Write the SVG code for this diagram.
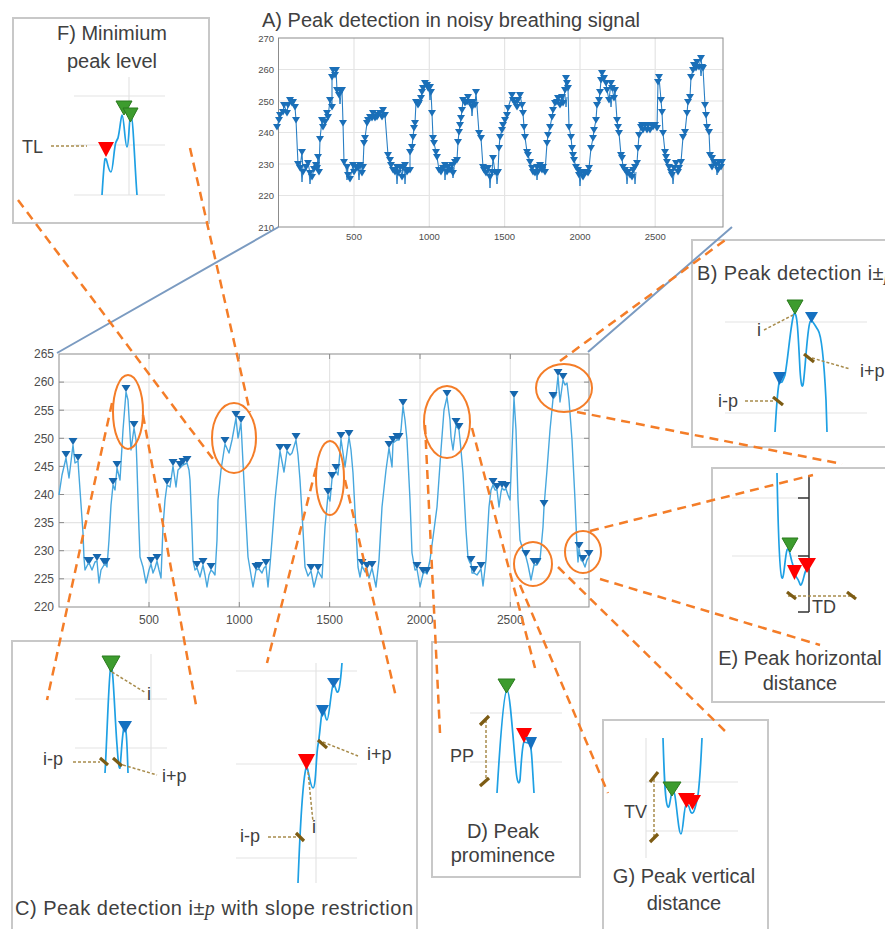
<svg xmlns="http://www.w3.org/2000/svg" width="885" height="929" viewBox="0 0 885 929">
  <defs>
    <style>
      .box{fill:#fff;stroke:#c8c8c8;stroke-width:2}
      .ttl{font-family:"Liberation Sans",Arial,sans-serif;font-size:20px;fill:#404040}
      .lbl{font-family:"Liberation Sans",Arial,sans-serif;font-size:18px;fill:#404040}
      .tk{font-family:"Liberation Sans",Arial,sans-serif;font-size:12px;fill:#4d4d4d}
      .tks{font-family:"Liberation Sans",Arial,sans-serif;font-size:9.5px;fill:#4d4d4d}
      .mid{text-anchor:middle}
      .end{text-anchor:end}
      .grid{stroke:#e4e4e4;stroke-width:1.2;fill:none}
      .ax{fill:none;stroke:#8c8c8c;stroke-width:1}
      .sig{fill:none;stroke:#1ea0e4;stroke-width:1.7;stroke-linejoin:round}
      .lead{fill:none;stroke:#a88c4c;stroke-width:1.5;stroke-dasharray:3 2}
      .cut{stroke:#7d5c14;stroke-width:3.2}
      .g{fill:#3d9c2e;stroke:#2b7a1e;stroke-width:1}
      .r{fill:#ff0000}
      .b{fill:#1570c0}
      .conn{fill:none;stroke:#f47d28;stroke-width:2.5;stroke-dasharray:9 6}
      .ring{fill:none;stroke:#f47d28;stroke-width:2}
      .zoomln{fill:none;stroke:#7b9bc1;stroke-width:2}
    </style>
    <!-- findpeaks style markers: tip sits on the vertex -->
    <marker id="mk" markerUnits="userSpaceOnUse" markerWidth="10" markerHeight="8" refX="4.5" refY="7" overflow="visible">
      <path d="M0 0H9L4.5 7Z" fill="#1667ae"/>
    </marker>
    <marker id="mt" markerUnits="userSpaceOnUse" markerWidth="9" markerHeight="7" refX="4" refY="3" overflow="visible">
      <path d="M0 0H8L4 6.5Z" fill="#1a6fb8"/>
    </marker>
  </defs>

  <rect width="885" height="929" fill="#fff"/>

  <!-- A) raw signal overview -->
  <g id="panel-a">
    <text class="ttl" x="262" y="27">A) Peak detection in noisy breathing signal</text>
    <path class="grid" d="M354 38V227M429.3 38V227M504.6 38V227M580 38V227M655.2 38V227M278.5 69.5H723M278.5 101H723M278.5 132.5H723M278.5 164H723M278.5 195.5H723"/>
    <rect class="ax" x="278.5" y="38" width="444.5" height="189"/>
    <g class="tks end">
      <text x="274" y="41.5">270</text><text x="274" y="73">260</text><text x="274" y="104.5">250</text>
      <text x="274" y="136">240</text><text x="274" y="167.5">230</text><text x="274" y="199">220</text><text x="274" y="230.5">210</text>
    </g>
    <g class="tks mid">
      <text x="354" y="240">500</text><text x="429.3" y="240">1000</text><text x="504.6" y="240">1500</text>
      <text x="580" y="240">2000</text><text x="655.2" y="240">2500</text>
    </g>
    <path fill="none" stroke="#2a7fc4" stroke-width="1" d="M301 168l1 14l1-12M309 172l1 12l1-10M346 166l1 14l1-12M358 168l1 12l1-12M396 170l1 14l1-12M404 168l1 16l1-14M444 166l1 14l1-12M452 166l1 12l1-10M489 172l1 16l1-14M496 172l1 12l1-10M536 168l1 12l1-10M579 172l1 14l1-12M626 172l1 12l1-10M634 170l1 14l1-12M672 172l1 12l1-10M716 165l1 10l1-8M339 92l1 12l1-10M429 88l1 12l1-10M471 104l1 12l1-10M565 95l1 12l1-10M610 95l1 12l1-10M700 66l1 10l1-8"/>
    <polyline fill="none" stroke="#2a7fc4" stroke-width="1.1" stroke-linejoin="round" marker-start="url(#mt)" marker-mid="url(#mt)" marker-end="url(#mt)" points="277,127 279,120 280,115 283,112 284,105 287,113 288,105 290,100 292,103 293,102 295,107 296,120 298,164 300,168 302,152 303,172 306,167 308,163 310,173 312,177 314,169 316,165 317,168 318,157 319,172 320,139 322,120 323,127 325,122 327,113 328,117 330,100 332,107 332,77 333,70 335,75 336,70 337,90 339,95 340,90 342,90 343,123 344,162 347,167 348,175 350,179 353,165 354,172 356,167 358,168 360,165 362,173 363,167 364,143 365,138 367,123 368,120 370,117 372,118 373,113 375,118 377,117 378,115 380,113 382,117 383,110 385,115 388,155 390,160 391,165 393,170 395,172 397,167 398,173 400,167 402,177 403,168 405,165 407,172 408,170 410,170 410,152 412,147 413,137 414,128 415,123 416,102 418,105 419,103 421,98 422,92 423,88 425,83 427,85 428,88 430,87 431,92 432,113 433,138 434,143 436,152 437,157 439,170 441,172 443,168 445,165 447,172 448,167 450,170 452,165 453,173 455,162 457,160 458,142 459,132 460,125 461,118 462,110 463,100 465,103 467,102 468,97 470,103 472,107 473,102 475,105 476,92 479,133 481,138 483,167 484,170 486,173 488,168 490,177 492,172 493,158 495,172 497,173 498,172 499,148 500,137 502,130 503,125 505,120 507,115 508,108 512,95 513,100 515,103 517,107 518,100 520,95 522,105 523,113 524,127 525,137 527,152 528,155 530,162 532,168 533,172 535,173 537,167 538,172 540,165 542,170 543,167 545,172 547,143 548,135 550,127 552,117 553,110 555,103 557,102 558,98 560,105 562,97 563,103 565,90 566,78 567,83 568,88 569,127 571,137 572,148 573,155 574,160 576,167 578,170 579,175 581,172 583,177 584,173 586,172 588,173 589,168 591,148 593,138 594,130 596,120 597,105 599,100 600,92 601,80 602,73 604,78 606,83 607,90 609,100 611,83 612,88 614,98 615,90 617,120 618,127 619,133 621,155 622,158 623,167 625,170 627,173 628,172 630,175 632,177 633,170 635,167 637,163 638,148 639,135 641,127 642,125 643,130 645,125 647,130 648,125 650,130 652,125 653,127 655,125 657,128 658,82 659,77 661,100 662,112 663,133 665,152 666,157 667,162 669,167 671,172 672,175 674,168 676,163 678,172 679,168 681,162 683,137 685,132 687,113 688,102 690,97 691,77 693,70 694,65 696,68 697,62 699,67 701,58 702,67 703,68 705,105 706,115 707,127 709,132 710,155 712,158 712,167 714,162 716,165 718,170 719,162 721,167 722,162"/>
  </g>

  <!-- filtered signal, zoomed -->
  <g id="main-plot">
    <path class="grid" d="M149 354V607M239.3 354V607M329.6 354V607M420 354V607M510.3 354V607M59 382.1H589M59 410.2H589M59 438.3H589M59 466.4H589M59 494.5H589M59 522.6H589M59 550.7H589M59 578.8H589"/>
    <rect class="ax" x="59" y="354" width="530" height="253"/>
    <path class="ax" d="M59 382.1h5M59 410.2h5M59 438.3h5M59 466.4h5M59 494.5h5M59 522.6h5M59 550.7h5M59 578.8h5M589 382.1h-5M589 410.2h-5M589 438.3h-5M589 466.4h-5M589 494.5h-5M589 522.6h-5M589 550.7h-5M589 578.8h-5M149 607v-5M239.3 607v-5M329.6 607v-5M420 607v-5M510.3 607v-5M149 354v5M239.3 354v5M329.6 354v5M420 354v5M510.3 354v5"/>
    <g class="tk end">
      <text x="54" y="358.3">265</text><text x="54" y="386.4">260</text><text x="54" y="414.5">255</text>
      <text x="54" y="442.6">250</text><text x="54" y="470.7">245</text><text x="54" y="498.8">240</text>
      <text x="54" y="526.9">235</text><text x="54" y="555">230</text><text x="54" y="583.1">225</text><text x="54" y="611.3">220</text>
    </g>
    <g class="tk mid">
      <text x="149" y="624">500</text><text x="239.3" y="624">1000</text><text x="329.6" y="624">1500</text>
      <text x="420" y="624">2000</text><text x="510.3" y="624">2500</text>
    </g>
    <polyline fill="none" stroke="#47a7de" stroke-width="1.4" stroke-linejoin="round" points="59,495 62,475 66,458 69,478 73,445 75,463 78,461 80,490 83,533 84,558 85,570 88,564 89.5,564 92,570 95,562 97,561 99,583 101,570 104,565 106,565 107,567 109,540 111,505 113,485 115,490 117,468 120,480 123,430 126,392 128,400 131,450 134,428 136,440 137,467 139,530 140,557 143,567 146,583 149,570 151,564 153,573 155,568 157,561 159,570 161,578 163,527 165,500 167,485 170,487 173,466 176,487 178,470 180,468 183,465 187,463 189,470 190,480 192,530 193,560 195,570 197,568 200,577 203,565 205,575 207,587 209,575 211,570 213,572 215,575 217,540 218,500 221,470 225,444 229,453 232,440 236,418 238,438 241,423 243,463 246,520 248,557 251,575 253,587 256,570 259,569 262,573 264,568 266,566 268,587 270,565 272,540 275,500 280,451 284,472 287,451 290,455 292,453 296,440 298,455 300,480 303,530 305,567 308,576 311,571 314,587 318,571 322,578 325,527 328,495 330,501 332,479 336,471 338,475 341,439 345,467 349,437 351,450 353,473 356,530 358,567 360,577 362,566 365,572 367,569 369,578 372,568 376,587 379,560 382,507 386,470 389,448 392,467 393,443 397,440 399,440 401,430 403,406 405,420 407,440 410,500 412,553 415,570 417,569 420,587 423,574 425,572 427,574 430,560 434,530 437,507 441,450 444,410 447,397 450,420 451,437 453,450 456,425 459,430 461,450 463,473 466,530 468,558 470,563 471,563 472,573 474,573 477,575 481,569 483,586 486,560 489,507 491,490 493,485 495,490 497,490 499,507 501,492 502,488 504,490 506,489 508,495 510,500 512,450 514,398 516,430 518,500 520,540 523,550 526,557 528,565 531,580 534,565 537,565 540,560 543,527 544,507 547,470 550,430 553,399 556,395 558,376 560,402 563,380 565,385 567,383 569,400 572,440 575,500 577,547 578,562 579,549 581,560 583,562 585,567 587,560 589,557"/>
    <polyline fill="none" stroke="none" marker-start="url(#mk)" marker-mid="url(#mk)" marker-end="url(#mk)" points="66,458 73,445 78,461 88,564 89.5,564 97,561 104,565 106,565 113,485 117,468 126,392 134,428 151,564 157,561 167,485 173,466 180,468 183,465 187,463 197,568 203,565 211,570 225,444 236,418 241,423 256,570 259,569 266,566 280,451 287,451 296,440 311,571 318,571 328,495 332,479 336,471 341,439 349,437 362,566 367,569 372,568 389,448 393,443 397,440 399,440 403,406 417,569 423,574 427,574 447,397 456,425 459,430 471,563 474,573 481,569 493,485 497,490 502,488 506,489 514,398 526,557 534,565 537,565 544,507 553,399 558,376 563,380 579,549 583,562 589,557"/>
    <g id="highlights">
      <ellipse class="ring" cx="128" cy="412" rx="15" ry="37"/>
      <ellipse class="ring" cx="234" cy="438" rx="22" ry="35"/>
      <ellipse class="ring" cx="330" cy="478" rx="14" ry="37"/>
      <ellipse class="ring" cx="447" cy="422" rx="23" ry="36"/>
      <ellipse class="ring" cx="533" cy="564" rx="19" ry="22"/>
      <ellipse class="ring" cx="564" cy="388" rx="28" ry="24"/>
      <ellipse class="ring" cx="583" cy="552" rx="18" ry="21"/>
    </g>
  </g>

  <!-- F) minimum peak level -->
  <g id="panel-f">
    <rect class="box" x="13" y="18" width="196" height="205"/>
    <text class="ttl mid" x="112" y="40">F) Minimium</text>
    <text class="ttl mid" x="112" y="68">peak level</text>
    <path class="grid" d="M74 96H165M74 145H165M74 195H165M129 77V195"/>
    <path class="sig" d="M102 195C103 180 104 162 105 159C107 156 108 172 111 172C113 172 114 146 116 142L118 138C120 130 121 115 122 115C124 115 125 147 127 147C129 147 129 115 131 115C133 115 135 170 137 195"/>
    <path class="lead" d="M51 146H87"/>
    <text class="lbl" x="22" y="153">TL</text>
    <path class="r" d="M98 142H114L106 157Z"/>
    <path class="g" d="M116 101H132L124 115Z"/>
    <path class="g" d="M123 108H138L130.5 122Z"/>
  </g>

  <!-- B) peak detection i +/- p -->
  <g id="panel-b">
    <rect class="box" x="692" y="240" width="200" height="207"/>
    <text class="ttl" x="697" y="280" textLength="197">B) Peak detection i±<tspan font-family="'Liberation Serif',serif" font-style="italic">p</tspan></text>
    <path class="grid" d="M725 322H867M725 413H867"/>
    <path class="sig" d="M775 432C776 415 777 395 779 383L782 382C783 380 784 378 785 375C788 360 791 320 794 314C797 310 798 330 800 370C801 385 802 388 803 385C805 375 807 330 810 322C812 318 815 326 818 330C822 336 824 360 826 400L827 432"/>
    <path class="lead" d="M764 330L793 315M812 358L850 369M745 401H774"/>
    <path class="cut" d="M804 354L814 362M773 397L783 405"/>
    <path class="g" d="M787 300H803L795 314Z"/>
    <path class="b" d="M805 312H818L811.5 323Z"/>
    <path class="b" d="M773 372H786L779.5 385Z"/>
    <text class="lbl" x="757" y="336">i</text>
    <text class="lbl" x="860" y="377">i+p</text>
    <text class="lbl" x="718" y="407">i-p</text>
  </g>

  <!-- E) peak horizontal distance -->
  <g id="panel-e">
    <rect class="box" x="712" y="468" width="180" height="234"/>
    <path class="grid" d="M732 498H798M732 556H798"/>
    <path fill="none" stroke="#333" stroke-width="1.5" d="M809 475V612M798 498H809M798 556H809M798 612H809"/>
    <path class="sig" d="M777 473C778 520 779 575 782 578C784 580 785 556 787 550C789 546 790 555 792 562C794 568 795 576 797 578C799 580 800 586 801 585C803 583 804 574 806 570C808 566 809 562 810 560"/>
    <path class="g" d="M782 538H798L790 552Z"/>
    <path class="r" d="M787 565H802L794.5 580Z"/>
    <path class="r" d="M798 558H816L807 573Z"/>
    <path class="lead" d="M788 596H855"/>
    <path class="cut" d="M787 592L796 599M847 592L856 599"/>
    <text class="lbl" x="812" y="613">TD</text>
    <text class="ttl mid" x="800" y="665">E) Peak horizontal</text>
    <text class="ttl mid" x="800" y="690">distance</text>
  </g>

  <!-- C) peak detection with slope restriction -->
  <g id="panel-c">
    <rect class="box" x="12" y="641" width="405" height="300"/>
    <path class="grid" d="M151 654V772M75 699H167M75 748H167M316 663V883M236 671H357M236 764H357M236 858H357"/>
    <path class="sig" d="M105 773C107 740 109 668 111 665C113 663 115 720 117 745C118 760 119 770 120 768C121 760 122 735 124 727C126 722 127 740 128 773"/>
    <path class="sig" d="M298 883C300 830 303 780 306 768C308 763 310 788 313 788C316 788 316 755 318 745C320 735 321 712 323 708C324 705 325 720 327 720C329 720 331 690 333 685C335 682 336 694 338 692C340 690 341 675 342 663"/>
    <path class="lead" d="M112 672L146 693M73 762H100M123 765L157 775M323 742L358 756M308 772L313 822M268 837H298"/>
    <path class="cut" d="M100 758L108 765M113 758L122 766M318 740L327 748M296 833L304 841"/>
    <path class="g" d="M102 656H120L111 672Z"/>
    <path class="b" d="M118 721H132L125 733Z"/>
    <path class="r" d="M298 754H315L306.5 770Z"/>
    <path class="b" d="M316 705H329L322.5 717Z"/>
    <path class="b" d="M327 678H340L333.5 688Z"/>
    <text class="lbl" x="147" y="700">i</text>
    <text class="lbl" x="43" y="765">i-p</text>
    <text class="lbl" x="162" y="782">i+p</text>
    <text class="lbl" x="367" y="760">i+p</text>
    <text class="lbl" x="312" y="833">i</text>
    <text class="lbl" x="240" y="842">i-p</text>
    <text class="ttl" x="15" y="915" textLength="398">C) Peak detection i±<tspan font-family="'Liberation Serif',serif" font-style="italic">p</tspan> with slope restriction</text>
  </g>

  <!-- D) peak prominence -->
  <g id="panel-d">
    <rect class="box" x="432" y="642" width="148" height="235"/>
    <path class="grid" d="M470 713H562M470 762H562"/>
    <path class="sig" d="M497 793C499 760 503 692 507 690C510 690 513 740 516 770C517 782 519 786 520 780C521 768 522 745 524 742L528 743C530 742 531 745 532 760L534 793"/>
    <path class="g" d="M498 679H515L506.5 693Z"/>
    <path class="r" d="M516 728H532L524 743Z"/>
    <path class="b" d="M525 737H537L531 750Z"/>
    <path class="lead" d="M486 720V782"/>
    <path class="cut" d="M480 725L489 716M480 786L489 778"/>
    <text class="lbl" x="450" y="762">PP</text>
    <text class="ttl mid" x="503" y="838">D) Peak</text>
    <text class="ttl mid" x="503" y="862">prominence</text>
  </g>

  <!-- G) peak vertical distance -->
  <g id="panel-g">
    <rect class="box" x="603" y="720" width="165" height="215"/>
    <path class="grid" d="M646 738V858M646 782H738M646 831H738"/>
    <path class="sig" d="M663 738C664 770 665 805 668 807C670 809 671 790 673 790C676 790 678 834 681 834C683 834 684 806 686 805C688 804 689 806 690 810C691 814 693 814 694 811C696 806 697 800 698 795C700 780 701 760 702 738"/>
    <path class="g" d="M663 782H681L672 796Z"/>
    <path class="r" d="M678 793H695L686.5 808Z"/>
    <path class="r" d="M684 795H701L692.5 810Z"/>
    <path class="lead" d="M654 779V838"/>
    <path class="cut" d="M650 782L658 772M650 842L658 834"/>
    <text class="lbl" x="624" y="818">TV</text>
    <text class="ttl mid" x="684" y="883">G) Peak vertical</text>
    <text class="ttl mid" x="684" y="910">distance</text>
  </g>

  <!-- links between highlighted regions and detail panels -->
  <g id="connectors">
    <path class="zoomln" d="M57 353L278.5 227M588 352L732 227"/>
    <path class="conn" d="M18 200L213 459M190 148L250 412M112 403L47 700M143 415L196 705M316 468L267 663M345 480L396 697M425 425L440 733M472 428L535 668M520 585L608 793M558 567L728 734M560 361L728 238M577 412L842 464M590 531L813 475M600 579L820 645"/>
  </g>
</svg>
